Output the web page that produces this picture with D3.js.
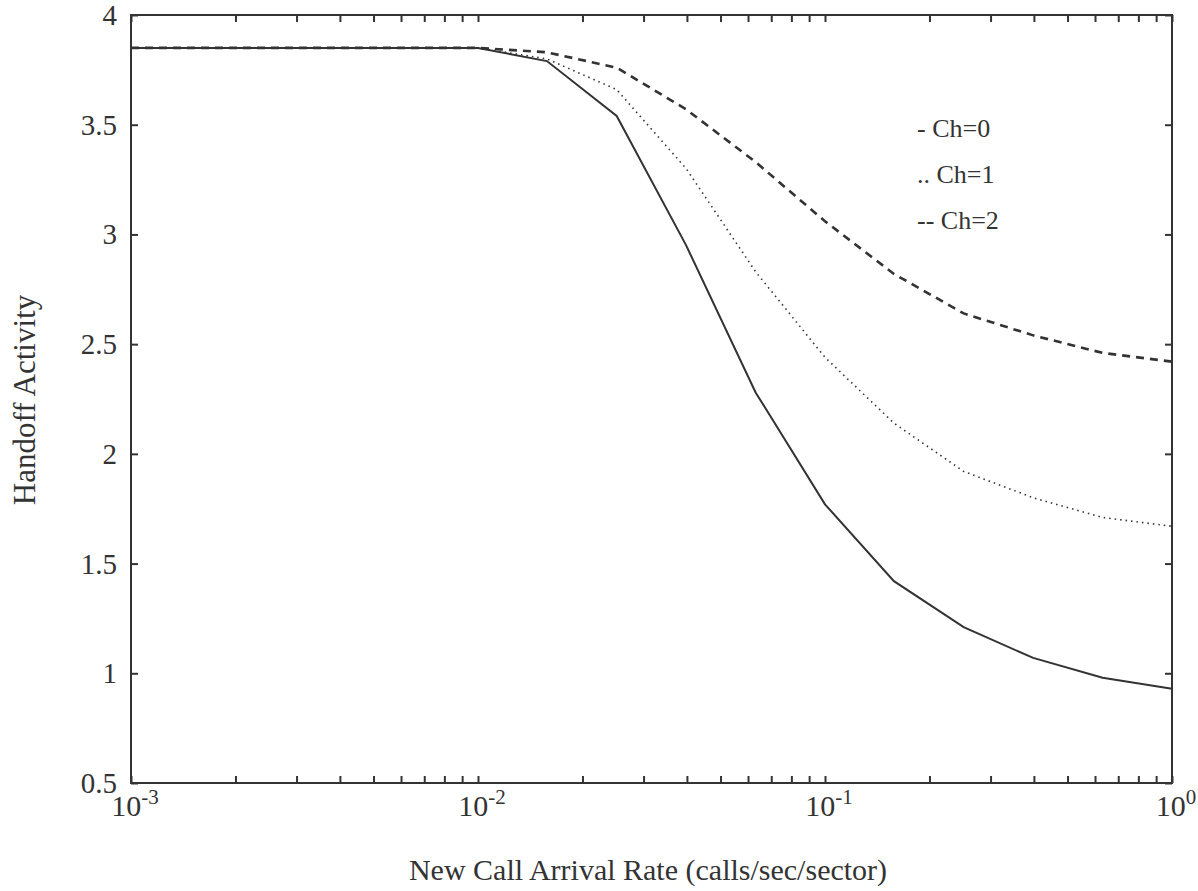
<!DOCTYPE html>
<html>
<head>
<meta charset="utf-8">
<script src="https://cdn.jsdelivr.net/npm/d3@7"></script>
<style>
  html, body { margin: 0; padding: 0; background: #fff; }
  svg { display: block; }
  text { font-family: "Liberation Serif", "DejaVu Serif", serif; fill: #333; }
</style>
</head>
<body>
<svg id="chart" width="1198" height="891"></svg>
<script>
// New call arrival rate (calls/sec/sector), 0.2-decade steps from 1e-3 to 1
const arrivalRate = [0.001, 0.00158, 0.00251, 0.00398, 0.00631, 0.01, 0.0158, 0.0251,
                     0.0398, 0.0631, 0.1, 0.158, 0.251, 0.398, 0.631, 1];

// Handoff activity for each number of guard channels
const ch0 = [3.85, 3.85, 3.85, 3.85, 3.85, 3.85, 3.79, 3.54, 2.95, 2.28, 1.77, 1.42, 1.21, 1.07, 0.98, 0.93];
const ch1 = [3.85, 3.85, 3.85, 3.85, 3.85, 3.85, 3.80, 3.66, 3.30, 2.83, 2.44, 2.14, 1.92, 1.80, 1.71, 1.67];
const ch2 = [3.85, 3.85, 3.85, 3.85, 3.85, 3.85, 3.83, 3.76, 3.57, 3.33, 3.06, 2.82, 2.64, 2.54, 2.46, 2.42];

const seriesNames = ["- Ch=0", ".. Ch=1", "-- Ch=2"];
const yTicks = [0.5, 1, 1.5, 2, 2.5, 3, 3.5, 4];
const xDecades = [-3, -2, -1, 0];

const svg = d3.select("#chart");
const m = { left: 131, right: 1172, top: 15, bottom: 783 };
const ink = "#333";

const x = d3.scaleLog().domain([1e-3, 1]).range([m.left, m.right]);
const y = d3.scaleLinear().domain([0.5, 4]).range([m.bottom, m.top]);

// Minor tick positions: 2..9 within each decade
const minor = [];
[1e-3, 1e-2, 1e-1].forEach(d => { for (let k = 2; k <= 9; k++) minor.push(d * k); });
const majorX = xDecades.map(e => Math.pow(10, e));

const tickLen = 7;
const g = svg.append("g");

// Inward ticks on all four sides
g.append("g").attr("transform", `translate(0,${m.bottom})`)
  .call(d3.axisBottom(x).tickValues(majorX.concat(minor)).tickSize(-tickLen).tickFormat(""))
  .call(s => s.select(".domain").remove());
g.append("g").attr("transform", `translate(0,${m.top})`)
  .call(d3.axisTop(x).tickValues(majorX.concat(minor)).tickSize(-tickLen).tickFormat(""))
  .call(s => s.select(".domain").remove());
g.append("g").attr("transform", `translate(${m.left},0)`)
  .call(d3.axisLeft(y).tickValues(yTicks).tickSize(-tickLen).tickFormat(""))
  .call(s => s.select(".domain").remove());
g.append("g").attr("transform", `translate(${m.right},0)`)
  .call(d3.axisRight(y).tickValues(yTicks).tickSize(-tickLen).tickFormat(""))
  .call(s => s.select(".domain").remove());
g.selectAll(".tick line").attr("stroke", ink).attr("stroke-width", 2);

// Frame
svg.append("rect")
  .attr("x", m.left).attr("y", m.top)
  .attr("width", m.right - m.left).attr("height", m.bottom - m.top)
  .attr("fill", "none").attr("stroke", ink).attr("stroke-width", 2);

// Y tick labels
svg.append("g").selectAll("text").data(yTicks).join("text")
  .attr("x", m.left - 14).attr("y", d => y(d) + 10)
  .attr("text-anchor", "end").attr("font-size", 29)
  .text(d => d3.format("")(d));

// X tick labels 10^n
const xl = svg.append("g").selectAll("text").data(xDecades).join("text")
  .attr("x", d => x(Math.pow(10, d)) + 4)
  .attr("y", m.bottom + 33)
  .attr("text-anchor", "middle").attr("font-size", 30);
xl.append("tspan").text("10");
xl.append("tspan").attr("dy", -12).attr("font-size", 21).text(d => String(d));

// Axis titles
svg.append("text")
  .attr("x", 648).attr("y", 880)
  .attr("text-anchor", "middle").attr("font-size", 30)
  .text("New Call Arrival Rate (calls/sec/sector)");
svg.append("text")
  .attr("transform", `translate(35,400) rotate(-90)`)
  .attr("text-anchor", "middle").attr("font-size", 31)
  .text("Handoff Activity");

// Curves
const line = d3.line().x((d, i) => x(arrivalRate[i])).y(d => y(d));
const styles = [
  { data: ch0, dash: null, width: 2 },
  { data: ch1, dash: "1.5,4", width: 1.6 },
  { data: ch2, dash: "8,6", width: 2.6 }
];
styles.forEach(s => {
  svg.append("path")
    .attr("d", line(s.data))
    .attr("fill", "none")
    .attr("stroke", ink)
    .attr("stroke-width", s.width)
    .attr("stroke-dasharray", s.dash);
});

// Legend text
svg.append("g").selectAll("text").data(seriesNames).join("text")
  .attr("x", 917).attr("y", (d, i) => 137 + i * 46)
  .attr("font-size", 26)
  .text(d => d);
</script>
</body>
</html>
